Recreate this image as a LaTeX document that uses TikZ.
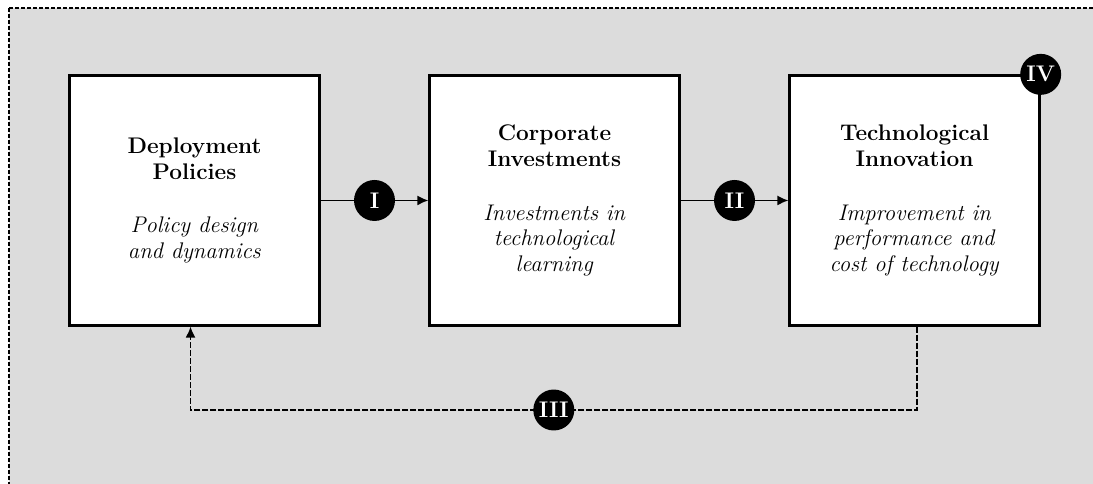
\documentclass[tikz,border=0pt]{standalone}
\usepackage{fontspec}
\usepackage{tikz}
\usetikzlibrary{arrows.meta}
\usepackage{xcolor}
\definecolor{ColBg}{RGB}{220,220,220}
\tikzstyle{BoxStage}=[rectangle,draw=black,fill=white,line width=1.5pt,minimum size=4.38cm,
inner sep=0pt,align=center,font=\fontsize{11.3}{12.8}\selectfont]
\tikzstyle{MarkStage}=[circle,fill=black,text=white,inner sep=0pt,minimum size=0.72cm,
font=\fontsize{11.3}{12.8}\selectfont\bfseries]
\tikzstyle{EdgeStage}=[line width=0.8pt,-{Latex[length=5.5pt,width=5pt]}]
\tikzstyle{EdgeBack}=[line width=0.8pt,dash pattern=on 3pt off 1pt,-{Latex[length=5.5pt,width=5pt]}]

\begin{document}
\begin{tikzpicture}
        \useasboundingbox(0,0)rectangle(19.207,-8.488);
        \draw[fill=ColBg,line width=0.9pt,dash pattern=on 2pt off 1pt](0.158,-0.141)rectangle(19.8,-9);
        \node[BoxStage](dp)at(3.418,-3.523){\textbf{Deployment}\\\textbf{Policies}\\[14pt]
            \textit{Policy design}\\\textit{and dynamics}};
        \node[BoxStage](ci)at(9.744,-3.523){\textbf{Corporate}\\\textbf{Investments}\\[14pt]
            \textit{Investments in}\\\textit{technological}\\\textit{learning}};
        \node[BoxStage](ti)at(16.071,-3.523){\textbf{Technological}\\\textbf{Innovation}\\[14pt]
            \textit{Improvement in}\\\textit{performance and}\\\textit{cost of technology}};
        \coordinate(lo)at(0,-7.205);
        \draw[EdgeStage](dp)--node[MarkStage](m1){I}(ci);
        \draw[EdgeStage](ci)--node[MarkStage](m2){II}(ti);
        \draw[EdgeBack]([xshift=0.044cm]ti.south)--([xshift=0.044cm]ti.south|-lo)
            -|node[pos=0.25,MarkStage](m3){III}([xshift=-0.07cm]dp.south);
        \node[MarkStage](m4)at(ti.north east){IV};
    \end{tikzpicture}
\end{document}
